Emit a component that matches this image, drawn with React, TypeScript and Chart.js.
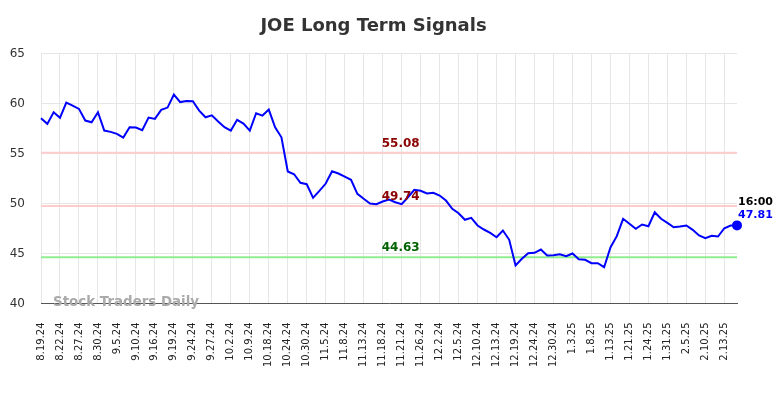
import React, { useEffect, useRef } from "react";
import { Chart, registerables } from "chart.js";

Chart.register(...registerables);

const dates: string[] = [
  "8.19.24", "8.20.24", "8.21.24",
  "8.22.24", "8.23.24", "8.26.24",
  "8.27.24", "8.28.24", "8.29.24",
  "8.30.24", "9.3.24", "9.4.24",
  "9.5.24", "9.6.24", "9.9.24",
  "9.10.24", "9.11.24", "9.12.24",
  "9.16.24", "9.17.24", "9.18.24",
  "9.19.24", "9.20.24", "9.23.24",
  "9.24.24", "9.25.24", "9.26.24",
  "9.27.24", "9.30.24", "10.1.24",
  "10.2.24", "10.3.24", "10.7.24",
  "10.9.24", "10.14.24", "10.16.24",
  "10.18.24", "10.21.24", "10.23.24",
  "10.24.24", "10.25.24", "10.28.24",
  "10.30.24", "10.31.24", "11.4.24",
  "11.5.24", "11.6.24", "11.7.24",
  "11.8.24", "11.11.24", "11.12.24",
  "11.13.24", "11.14.24", "11.15.24",
  "11.18.24", "11.19.24", "11.20.24",
  "11.21.24", "11.22.24", "11.25.24",
  "11.26.24", "11.27.24", "11.29.24",
  "12.2.24", "12.3.24", "12.4.24",
  "12.5.24", "12.6.24", "12.9.24",
  "12.10.24", "12.11.24", "12.12.24",
  "12.13.24", "12.16.24", "12.18.24",
  "12.19.24", "12.20.24", "12.23.24",
  "12.24.24", "12.26.24", "12.27.24",
  "12.30.24", "12.31.24", "1.2.25",
  "1.3.25", "1.6.25", "1.7.25",
  "1.8.25", "1.9.25", "1.10.25",
  "1.13.25", "1.15.25", "1.17.25",
  "1.21.25", "1.22.25", "1.23.25",
  "1.24.25", "1.28.25", "1.30.25",
  "1.31.25", "2.3.25", "2.4.25",
  "2.5.25", "2.6.25", "2.7.25",
  "2.10.25", "2.11.25", "2.12.25",
  "2.13.25", "2.14.25", "2.18.25",
];

const prices: number[] = [
  58.53, 57.97, 59.13, 58.57, 60.1, 59.8, 59.47, 58.3, 58.13, 59.13,
  57.3, 57.17, 56.97, 56.6, 57.63, 57.6, 57.33, 58.6, 58.47, 59.37,
  59.6, 60.9, 60.15, 60.25, 60.23, 59.3, 58.63, 58.83, 58.2, 57.63,
  57.3, 58.37, 58.0, 57.3, 59.03, 58.8, 59.4, 57.63, 56.63, 53.2,
  52.93, 52.07, 51.93, 50.57, 51.27, 52.0, 53.23, 53.0, 52.7, 52.37,
  50.97, 50.47, 50.0, 49.93, 50.2, 50.4, 50.13, 49.93, 50.63, 51.37,
  51.27, 51.0, 51.07, 50.8, 50.3, 49.47, 49.03, 48.37, 48.57, 47.8,
  47.4, 47.07, 46.63, 47.3, 46.37, 43.8, 44.47, 45.03, 45.07, 45.4,
  44.8, 44.83, 44.93, 44.73, 45.0, 44.43, 44.37, 44.03, 44.03, 43.63,
  45.6, 46.73, 48.47, 47.97, 47.47, 47.9, 47.73, 49.13, 48.47, 48.07,
  47.63, 47.7, 47.8, 47.37, 46.8, 46.53, 46.77, 46.7, 47.53, 47.8,
  47.81,
];

const levelValues: number[] = [55.08, 49.74, 44.63];
const levelLineColors: string[] = ["#ffcccc", "#ffcccc", "#90ee90"];
const levelTextColors: string[] = ["#8b0000", "#8b0000", "#006400"];
const yTicks: number[] = [40, 45, 50, 55, 60, 65];
const lastTime = "16:00";
const titleText = "JOE Long Term Signals";
const watermark = "Stock Traders Daily";
const levelLabelIndex = 57;

const overlayPlugin = {
  id: "overlay",
  beforeDatasetsDraw(chart: any) {
    const { ctx, chartArea, scales } = chart;
    ctx.save();
    levelValues.forEach((v, i) => {
      const py = scales.y.getPixelForValue(v);
      ctx.strokeStyle = levelLineColors[i];
      ctx.lineWidth = 2;
      ctx.beginPath();
      ctx.moveTo(chartArea.left, py);
      ctx.lineTo(chartArea.right, py);
      ctx.stroke();
    });
    ctx.restore();
  },
  afterDatasetsDraw(chart: any) {
    const { ctx, scales } = chart;
    ctx.save();
    ctx.font = "bold 12px 'DejaVu Sans'";
    ctx.textAlign = "center";
    ctx.textBaseline = "bottom";
    const px = scales.x.getPixelForValue(levelLabelIndex);
    levelValues.forEach((v, i) => {
      const py = scales.y.getPixelForValue(v);
      ctx.fillStyle = levelTextColors[i];
      ctx.fillText(v.toFixed(2), px - 1, py - 3);
    });
    ctx.restore();
  },
  afterDraw(chart: any) {
    const { ctx, chartArea, scales } = chart;
    ctx.save();
    ctx.font = "bold 13.4px 'DejaVu Sans'";
    ctx.fillStyle = "#aaaaaa";
    ctx.textAlign = "left";
    ctx.textBaseline = "middle";
    ctx.fillText(watermark, chartArea.left + 12, chartArea.bottom - 1);

    const li = prices.length - 1;
    const lx = scales.x.getPixelForValue(li);
    const ly = scales.y.getPixelForValue(prices[li]);
    ctx.font = "bold 11px 'DejaVu Sans'";
    ctx.textAlign = "left";
    ctx.textBaseline = "middle";
    ctx.fillStyle = "#000000";
    ctx.fillText(lastTime, lx + 1, ly - 23);
    ctx.fillStyle = "#0000ff";
    ctx.fillText(prices[li].toFixed(2), lx + 1, ly - 10);
    ctx.restore();
  },
};

export default function App() {
  const canvasRef = useRef<HTMLCanvasElement | null>(null);

  useEffect(() => {
    if (!canvasRef.current) return;
    const chart = new Chart(canvasRef.current, {
      type: "line",
      data: {
        labels: dates,
        datasets: [
          {
            data: prices,
            borderColor: "#0000ff",
            backgroundColor: "#0000ff",
            borderWidth: 2,
            tension: 0,
            pointRadius: prices.map((_, i) => (i === prices.length - 1 ? 4 : 0)),
            pointHoverRadius: 0,
            fill: false,
          },
        ],
      },
      options: {
        responsive: true,
        maintainAspectRatio: false,
        animation: false,
        layout: { padding: { left: 10, right: 47, top: 0, bottom: 12 } },
        plugins: {
          legend: { display: false },
          tooltip: { enabled: false },
          title: {
            display: true,
            text: titleText,
            color: "#333333",
            font: { family: "'DejaVu Sans'", size: 18, weight: "bold" },
            padding: { top: 16, bottom: 16 },
          },
        },
        scales: {
          x: {
            offset: false,
            grid: { color: "#e6e6e6", drawTicks: false, lineWidth: 1 },
            border: { display: true, color: "#555555", width: 1 },
            ticks: {
              autoSkip: false,
              minRotation: 90,
              maxRotation: 90,
              padding: 19,
              color: "#222222",
              font: { family: "'DejaVu Sans'", size: 10 },
              callback: (_v: any, i: number) => (i % 3 === 0 ? dates[i] : null),
            },
          },
          y: {
            min: 40,
            max: 65,
            afterBuildTicks: (axis: any) => {
              axis.ticks = yTicks.map((v) => ({ value: v }));
            },
            afterFit: (axis: any) => {
              axis.width = 31;
            },
            grid: { color: "#e6e6e6", drawTicks: false, lineWidth: 1 },
            border: { display: false },
            ticks: {
              padding: 16,
              color: "#333333",
              font: { family: "'DejaVu Sans'", size: 12 },
            },
          },
        },
      },
      plugins: [overlayPlugin],
    });
    return () => chart.destroy();
  }, []);

  return (
    <div style={{ position: "fixed", left: 0, top: 0, width: 784, height: 398 }}>
      <canvas ref={canvasRef} />
    </div>
  );
}
